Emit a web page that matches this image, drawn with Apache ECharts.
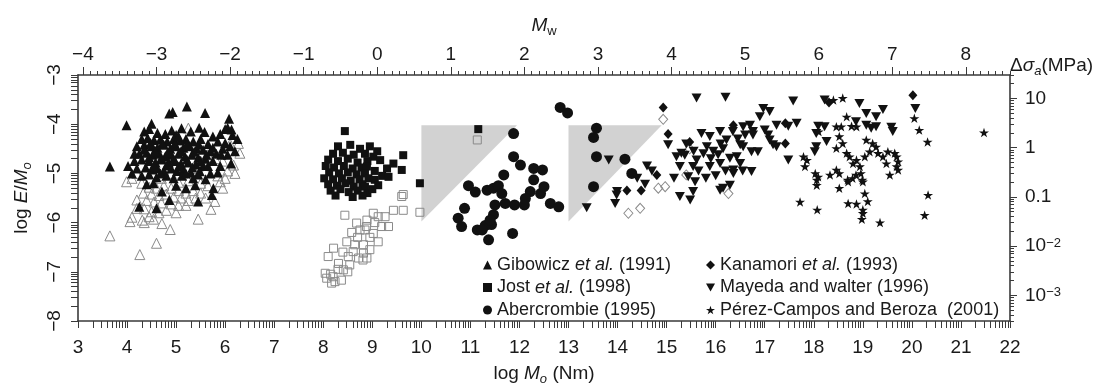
<!DOCTYPE html>
<html><head><meta charset="utf-8">
<script src="https://cdn.jsdelivr.net/npm/echarts@6/dist/echarts.min.js"></script>
<style>html,body{margin:0;padding:0;background:#fff}#c{width:1103px;height:386px}</style>
</head><body><div id="c"></div><script>
// ---------- tick labels ----------
const logM0Labels = [3,4,5,6,7,8,9,10,11,12,13,14,15,16,17,18,19,20,21,22];
const mwLabels = [-4,-3,-2,-1,0,1,2,3,4,5,6,7,8];
const logEM0Labels = [-8,-7,-6,-5,-4,-3];
const stressLabels = [-3,-2,-1,0,1]; // log10 of MPa
const stressText = {'-3':'10{sup|−3}','-2':'10{sup|−2}','-1':'0.1','0':'1','1':'10'};

// ---------- data [log M0, log E/M0] ----------
const gibowiczFilled = [
[5.22,-3.64],[4.86,-3.78],[4.93,-3.75],[5.59,-3.77],[3.99,-4.02],[4.5,-3.99],[6.08,-3.89],[4.91,-4.13],[5.11,-4.08],[5.47,-4.07],[6.05,-4.07],[6.13,-4.11],[6.0,-4.1],[4.35,-4.15],[4.45,-4.1],[4.62,-4.18],[4.78,-4.2],[5.0,-4.22],[5.3,-4.15],[5.58,-4.16],[5.75,-4.25],[5.9,-4.2],[6.15,-4.22],[6.25,-4.3],
[4.3,-4.3],[4.42,-4.28],[4.55,-4.32],[4.68,-4.3],[4.82,-4.35],[4.95,-4.3],[5.08,-4.33],[5.2,-4.3],[5.35,-4.35],[5.5,-4.3],[5.65,-4.4],[5.85,-4.35],[6.0,-4.38],[6.1,-4.45],[5.95,-4.5],
[4.2,-4.45],[4.35,-4.42],[4.5,-4.45],[4.62,-4.48],[4.75,-4.42],[4.88,-4.5],[5.0,-4.45],[5.15,-4.48],[5.28,-4.45],[5.42,-4.5],[5.55,-4.52],[5.7,-4.55],[5.82,-4.6],[6.05,-4.62],
[4.25,-4.6],[4.4,-4.58],[4.52,-4.62],[4.65,-4.6],[4.78,-4.65],[4.9,-4.62],[5.05,-4.6],[5.18,-4.65],[5.32,-4.62],[5.45,-4.68],[5.6,-4.7],[5.75,-4.75],
[3.65,-4.86],[4.02,-4.85],[4.15,-4.75],[4.3,-4.72],[4.45,-4.75],[4.58,-4.78],[4.7,-4.72],[4.85,-4.78],[4.98,-4.75],[5.1,-4.8],[5.25,-4.78],[5.4,-4.82],[5.55,-4.85],[5.9,-4.85],[6.12,-4.8],
[4.2,-4.9],[4.38,-4.88],[4.5,-4.92],[4.62,-4.9],[4.75,-4.95],[4.9,-4.9],[5.02,-4.95],[5.15,-4.92],[5.3,-4.98],[5.48,-4.95],[5.7,-5.0],[5.85,-4.98],
[4.3,-5.05],[4.45,-5.02],[4.6,-5.08],[4.8,-5.05],[4.95,-5.1],[5.12,-5.05],[5.35,-5.1],[5.6,-5.12],
[4.54,-5.2],[5.39,-5.24],[5.76,-5.3],[4.71,-5.37],[5.73,-5.44],[4.86,-5.54],[5.45,-5.57],[4.25,-5.68],[4.6,-5.71],[5.0,-5.25],[4.4,-5.22],[5.2,-5.3],
[4.48,-4.38],[4.72,-4.38],[4.97,-4.4],[5.22,-4.4],[5.47,-4.42],[4.58,-4.55],[4.83,-4.57],[5.1,-4.55],[5.37,-4.56],[5.62,-4.62],[4.45,-4.67],[4.7,-4.68],[4.95,-4.7],[5.22,-4.72],[5.5,-4.75],[4.55,-4.85],[4.8,-4.84],[5.05,-4.86],[5.33,-4.88],[4.68,-5.0],[5.2,-5.0],[5.45,-5.02],[4.35,-4.52],[5.75,-4.48],[5.92,-4.62],[6.2,-4.55],[5.65,-4.85],[4.15,-4.6],[4.1,-5.0],[5.05,-4.25]];
const gibowiczOpen = [
[6.3,-4.59],[6.17,-4.83],[6.27,-4.39],[6.1,-4.4],[5.25,-4.08],[3.99,-5.17],[4.1,-5.1],[4.2,-5.0],[5.65,-4.62],[5.8,-4.7],[5.95,-4.75],[6.05,-4.95],[5.5,-4.75],[5.35,-4.9],[5.6,-4.95],[5.85,-5.05],[6.0,-5.1],[4.9,-5.0],[4.7,-5.1],[5.05,-5.18],[5.25,-5.15],[5.5,-5.2],[5.65,-5.25],[5.9,-5.17],
[4.3,-5.2],[4.45,-5.28],[4.6,-5.3],[4.75,-5.25],[4.9,-5.3],[5.05,-5.35],[5.2,-5.4],[5.35,-5.35],[5.5,-5.4],[5.6,-5.5],[4.33,-5.4],[4.5,-5.42],[4.65,-5.45],[4.8,-5.42],[4.95,-5.48],[5.1,-5.5],[5.25,-5.55],[5.4,-5.5],[4.4,-5.55],[4.55,-5.58],[4.7,-5.6],[4.9,-5.62],[5.05,-5.65],[5.2,-5.65],[4.2,-5.54],[4.2,-5.71],[4.35,-5.72],[4.5,-5.78],[4.65,-5.8],[4.8,-5.75],[5.0,-5.8],[5.71,-5.73],[5.79,-5.57],[5.45,-5.93],[4.1,-5.89],[4.06,-5.98],[4.31,-5.95],[4.54,-5.93],[4.71,-6.02],[4.88,-6.14],[4.6,-6.42],[3.65,-6.27],[4.26,-6.65],[4.45,-5.88],[4.35,-6.0],[5.95,-5.3],[6.2,-5.0]];
const jostFilled = [
[8.44,-4.14],[8.3,-4.45],[8.55,-4.42],[8.75,-4.5],[8.95,-4.45],[9.1,-4.55],[8.2,-4.6],[8.4,-4.58],[8.62,-4.62],[8.85,-4.6],[9.02,-4.66],[9.16,-4.73],[8.1,-4.72],[8.3,-4.75],[8.5,-4.7],[8.7,-4.78],[8.9,-4.75],[9.3,-4.9],[9.43,-4.8],[9.63,-4.63],[9.6,-4.93],[8.05,-4.85],[8.22,-4.88],[8.42,-4.85],[8.6,-4.9],[8.78,-4.88],[8.89,-4.86],[9.05,-4.95],[8.12,-4.98],[8.32,-5.0],[8.5,-4.98],[8.68,-5.02],[8.85,-5.0],[9.2,-5.05],[9.33,-5.07],[8.02,-5.1],[8.2,-5.12],[8.38,-5.1],[8.56,-5.15],[8.74,-5.12],[8.92,-5.1],[9.05,-5.13],[8.1,-5.22],[8.28,-5.25],[8.45,-5.2],[8.62,-5.27],[8.8,-5.22],[8.85,-5.27],[9.12,-5.24],[8.15,-5.35],[8.35,-5.32],[8.52,-5.38],[8.7,-5.35],[8.9,-5.4],[9.0,-5.32],[8.25,-5.45],[8.6,-5.48],[8.8,-5.45],[9.97,-5.2],[11.16,-4.1]];
const jostOpen = [
[8.44,-5.85],[8.68,-6.01],[8.88,-6.08],[8.75,-6.15],[8.48,-6.39],[8.21,-6.52],[8.1,-6.69],[8.31,-6.83],[8.61,-6.59],[8.72,-6.72],[8.51,-6.69],[8.41,-6.96],[8.04,-7.03],[8.07,-7.13],[8.17,-7.23],[8.24,-7.2],[8.37,-7.17],[8.64,-6.45],[8.81,-6.76],[8.54,-6.86],[9.02,-5.81],[8.89,-5.95],[9.12,-5.88],[9.26,-5.88],[9.43,-5.75],[9.63,-5.75],[9.6,-5.47],[9.97,-5.79],[9.19,-6.08],[9.33,-6.08],[8.85,-6.15],[9.02,-6.22],[9.12,-6.39],[8.82,-6.45],[8.89,-6.72],[8.82,-6.62],[9.63,-5.43],[8.95,-6.3],[8.7,-6.3],[8.58,-6.2],[8.4,-6.6],[8.3,-6.95],[8.15,-7.05],[8.2,-7.1],[8.95,-6.55],[8.5,-7.0],[9.05,-6.0],[11.14,-4.32]];
const abercrombie = [
[12.83,-3.66],[12.98,-3.77],[11.88,-4.19],[11.88,-4.66],[12.02,-4.83],[12.29,-4.9],[12.47,-4.93],[11.68,-5.03],[12.29,-5.13],[10.96,-5.25],[11.1,-5.38],[11.34,-5.34],[11.47,-5.3],[11.57,-5.25],[12.22,-5.37],[12.12,-5.51],[11.64,-5.41],[11.71,-5.61],[11.5,-5.64],[11.9,-5.64],[12.1,-5.64],[12.43,-5.41],[12.63,-5.61],[12.8,-5.68],[12.5,-5.27],[10.75,-5.91],[10.82,-6.08],[10.88,-5.71],[11.47,-5.84],[11.43,-6.04],[11.3,-6.06],[11.14,-6.15],[11.24,-6.15],[11.37,-6.35],[11.86,-6.22],[11.4,-5.95],
[13.57,-4.08],[13.51,-4.27],[13.57,-4.66],[14.15,-4.71],[14.29,-5.0],[13.51,-5.27]];
const kanamoriFilled = [[14.93,-3.66],[15.03,-4.2],[15.47,-4.36],[14.8,-5.03],[14.19,-5.35],[14.48,-5.35],[16.36,-4.02],[20.02,-3.41],[18.31,-3.56],[17.42,-4.39],[17.42,-3.98]];
const kanamoriOpen = [[14.93,-3.9],[15.47,-4.5],[14.83,-5.3],[14.97,-5.27],[14.22,-5.81],[14.46,-5.71],[16.26,-5.41],[15.4,-5.03]];
const mayeda = [
[15.61,-3.47],[16.2,-3.45],[13.82,-4.73],[13.99,-5.37],[13.37,-5.7],[13.95,-5.61],[13.98,-5.44],[14.56,-5.22],[15.03,-4.42],[15.3,-4.59],[15.61,-4.73],[15.71,-4.19],[15.88,-4.25],[16.09,-4.15],[16.22,-4.32],[15.82,-4.46],[15.54,-4.86],[15.88,-4.86],[16.09,-4.8],[16.29,-4.69],[15.44,-5.07],[15.58,-5.17],[15.54,-5.37],[15.27,-5.47],[16.15,-5.3],[16.36,-5.0],[15.2,-4.66],[15.37,-4.63],[15.27,-4.86],[15.48,-5.54],[16.09,-5.34],[16.29,-5.24],
[17.58,-3.53],[16.97,-3.68],[17.1,-3.74],[16.9,-3.85],[16.56,-4.05],[16.7,-4.02],[16.76,-4.15],[17.24,-4.02],[17.48,-4.04],[17.65,-3.98],[17.0,-4.12],[17.07,-4.22],[17.1,-4.32],[16.6,-4.22],[16.76,-4.22],[16.5,-4.42],[16.56,-4.46],[16.73,-4.56],[16.86,-4.56],[17.17,-4.42],[17.24,-4.46],[16.43,-4.66],[16.36,-4.93],[16.73,-4.96],[17.48,-4.73],[18.09,-4.04],[18.22,-4.05],[18.05,-4.19],[18.26,-4.35],[18.02,-4.56],[18.05,-4.46],[18.22,-3.51],[18.93,-3.58],[19.07,-3.78],[19.41,-3.7],[19.27,-3.85],[18.86,-3.95],[19.07,-4.02],[19.17,-4.08],[19.27,-4.05],[19.58,-4.06],[19.61,-4.15],[20.07,-3.68],
[15.95,-4.55],[16.05,-4.62],[16.15,-4.5],[15.75,-4.6],[15.65,-4.95],[15.8,-5.1],[16.0,-5.05],[16.2,-4.95],[15.9,-4.7],[16.45,-4.3],[16.35,-4.15],[16.5,-4.8],[15.4,-4.4],[15.15,-5.1],[14.6,-4.85],[14.4,-5.1],[14.7,-4.95],[16.55,-4.95],[16.1,-4.4],[15.55,-4.55]];
const perezCampos = [
[18.59,-3.47],[18.4,-3.51],[18.67,-3.85],[18.77,-4.04],[18.87,-4.05],[18.46,-4.05],[18.56,-4.05],[18.1,-4.15],[18.52,-4.25],[18.59,-4.39],[18.46,-4.49],[19.07,-4.32],[19.2,-4.39],[19.27,-4.46],[19.14,-4.56],[18.67,-4.59],[18.73,-4.66],[18.87,-4.73],[18.8,-4.8],[18.94,-4.86],[19.04,-4.66],[19.31,-4.59],[19.41,-4.66],[19.51,-4.56],[19.48,-4.8],[19.65,-4.59],[19.69,-4.66],[19.72,-4.76],[19.69,-4.86],[19.72,-4.93],[19.55,-5.03],[20.05,-3.88],[20.15,-4.12],[20.32,-4.36],[21.47,-4.17],[17.79,-4.66],[17.86,-4.73],[17.82,-4.86],[18.03,-5.0],[18.06,-5.13],[18.06,-5.24],[18.09,-5.07],[18.33,-5.03],[18.46,-4.93],[18.52,-5.0],[18.69,-5.13],[18.79,-5.1],[18.86,-5.03],[18.96,-5.0],[18.99,-5.13],[18.52,-5.3],[19.04,-5.41],[20.33,-5.44],
[17.72,-5.58],[18.07,-5.74],[18.7,-5.61],[18.87,-5.62],[19.0,-5.74],[19.1,-5.57],[19.0,-5.81],[18.98,-5.93],[19.35,-6.0],[20.26,-5.85],[18.7,-5.17],[19.0,-5.17]];
const grayTriangles = [[[10,-4.02],[11.95,-4.02],[10,-5.98]],[[13,-4.02],[14.9,-4.02],[13,-5.98]]];
const questionMarks = [[10.84,-4.14],[13.86,-4.14]];
const names = ['Gibowicz et al. (1991)','Jost et al. (1998)','Abercrombie (1995)','Kanamori et al. (1993)','Mayeda and walter (1996)','Pérez-Campos and Beroza  (2001)'];

// ---------- axis helpers ----------
const FONT = 'Liberation Sans, Arial, sans-serif';
const INK = '#1a1a1a', AX = '#3a3a3a';
const MU = Math.log10(3e4); // log10 shear modulus in MPa
function logTicks(a, b, lo, hi, withDecade){
  const out=[];
  for(let n=a;n<=b;n++) for(let k=(withDecade?1:2);k<=9;k++){const v=n+Math.log10(k); if(v>=lo-1e-9&&v<=hi+1e-9) out.push(v);}
  return out;
}
const bottomTicks = logTicks(3,22,3,22,true);
const leftTicks = logTicks(-8,-3,-8,-3,true);
const rightMin = -8+MU, rightMax = -3+MU;
const rightMinor = logTicks(-4,1,rightMin,rightMax,false);
const mwMin = (3-9.1)/1.5, mwMax = (22-9.1)/1.5;
const mwMinor = []; for(let i=-41;i<=86;i++){ if(i%10!==0) mwMinor.push(i/10); }
const minus = v => (v<0?'−'+(-v):String(v));
const lineStyle = {color:AX,width:1.6};
const base = {fontFamily:FONT,color:INK};
const nameRich = {
  n:{...base,fontSize:19,lineHeight:24},
  i:{...base,fontSize:19,fontStyle:'italic',lineHeight:24},
  s:{...base,fontSize:13,fontStyle:'italic',lineHeight:12,verticalAlign:'bottom'},
  su:{...base,fontSize:13,lineHeight:12,verticalAlign:'bottom'}
};
// tick-only axes (no line, no labels)
const tickX = (pos,min,max,vals,len) => ({type:'value',position:pos,min,max,
  axisLine:{show:false,onZero:false},axisLabel:{show:false},splitLine:{show:false},
  axisTick:{show:true,length:len,customValues:vals,lineStyle:{color:AX,width:1}}});

const scat = (name, data, symbol, size, filled, z) => ({
  type:'scatter', name, data, symbol, symbolSize:size, symbolKeepAspect:true, z:z||3,
  xAxisIndex:0, yAxisIndex:0, silent:true,
  itemStyle: filled ? {color:'#111', opacity:1} : {color:'rgba(255,255,255,0)', borderColor:'#8a8a8a', borderWidth:1, opacity:1}
});
const TRI_DOWN = 'path://M0,0L10,0L5,9Z';
const STAR = 'path://M5,0L6.2,3.6L10,3.6L6.9,5.9L8.1,9.5L5,7.3L1.9,9.5L3.1,5.9L0,3.6L3.8,3.6Z';
const legendFmt = n => n.replace('et al.','{i|et al.}');
const legendText = {fontFamily:FONT,fontSize:18,color:INK,lineHeight:20,rich:{i:{fontFamily:FONT,fontSize:18,fontStyle:'italic',color:INK,lineHeight:20}}};

const chart = echarts.init(document.getElementById('c'), null, {renderer:'canvas'});
chart.setOption({
  animation:false,
  backgroundColor:'#fff',
  grid:{left:78,right:93,top:75,bottom:65,containLabel:false,outerBoundsMode:'none'},
  legend:[
    {orient:'vertical',left:478,top:250,itemWidth:9,itemHeight:9,itemGap:2.5,selectedMode:false,formatter:legendFmt,textStyle:legendText,
     data:[{name:names[0],icon:'triangle'},{name:names[1],icon:'rect'},{name:names[2],icon:'circle'}]},
    {orient:'vertical',left:701,top:250,itemWidth:9,itemHeight:9,itemGap:2.5,selectedMode:false,formatter:legendFmt,textStyle:legendText,
     data:[{name:names[3],icon:'diamond'},{name:names[4],icon:TRI_DOWN},{name:names[5],icon:STAR}]}
  ],
  xAxis:[
    {type:'value',position:'bottom',min:3,max:22,interval:1,
     axisLine:{show:true,onZero:false,lineStyle},
     axisTick:{show:false},
     axisLabel:{fontSize:19,fontFamily:FONT,color:INK,margin:17},
     splitLine:{show:false},
     name:'log {i|M}{s|o} (Nm)',nameLocation:'middle',nameGap:41,nameTextStyle:{...base,fontSize:19,rich:nameRich}},
    {type:'value',position:'top',min:mwMin,max:mwMax,
     axisLine:{show:true,onZero:false,lineStyle},
     axisTick:{show:false},
     axisLabel:{customValues:mwLabels,formatter:minus,fontSize:19,fontFamily:FONT,color:INK,margin:11},
     splitLine:{show:false},
     name:'{i|M}{su|w}',nameLocation:'middle',nameGap:37,nameTextStyle:{...base,fontSize:19,rich:nameRich}},
    tickX('top',mwMin,mwMax,mwMinor,4),
    tickX('top',mwMin,mwMax,mwLabels,8),
    tickX('bottom',3,22,bottomTicks,7)
  ],
  yAxis:[
    {type:'value',position:'left',min:-8,max:-3,interval:1,
     axisLine:{show:true,onZero:false,lineStyle},
     axisTick:{show:false},
     axisLabel:{formatter:minus,rotate:90,fontSize:19,fontFamily:FONT,color:INK,margin:14},
     splitLine:{show:false},
     name:'log {i|E}/{i|M}{s|o}',nameLocation:'middle',nameGap:44,nameTextStyle:{...base,fontSize:19,rich:nameRich}},
    {type:'value',position:'right',min:rightMin,max:rightMax,
     axisLine:{show:true,onZero:false,lineStyle},
     axisTick:{show:false},
     axisLabel:{customValues:stressLabels,formatter:v=>stressText[String(Math.round(v))],fontSize:19,fontFamily:FONT,color:INK,margin:15,
       rich:{sup:{fontFamily:FONT,fontSize:13,color:INK,lineHeight:12,verticalAlign:'top'}}},
     splitLine:{show:false},
     name:'{n|Δ}{i|σ}{s|a}{n|(MPa)}',nameLocation:'end',nameGap:-3,
     nameTextStyle:{...base,fontSize:19,align:'left',verticalAlign:'bottom',rich:nameRich}},
    tickX('right',rightMin,rightMax,rightMinor,4),
    tickX('right',rightMin,rightMax,stressLabels,7),
    tickX('left',-8,-3,leftTicks,7)
  ],
  series:[
    {type:'custom',name:'regions',xAxisIndex:0,yAxisIndex:0,z:1,silent:true,
     data:grayTriangles.map((t,i)=>[t[0][0],t[0][1],i]),
     renderItem:(p,api)=>({type:'polygon',shape:{points:grayTriangles[p.dataIndex].map(v=>api.coord(v))},style:{fill:'#d2d2d2'}})},
    scat('open-gib',gibowiczOpen,'triangle',10,false,2),
    scat('open-jost',jostOpen,'rect',8,false,2),
    scat('open-kan',kanamoriOpen,'diamond',[9,10],false,2),
    scat(names[0],gibowiczFilled,'triangle',10,true),
    scat(names[1],jostFilled,'rect',8,true),
    scat(names[2],abercrombie,'circle',11,true),
    scat(names[3],kanamoriFilled,'diamond',[9,10],true),
    scat(names[4],mayeda,TRI_DOWN,10,true),
    scat(names[5],perezCampos,STAR,10,true),
    {type:'scatter',name:'q',data:questionMarks,symbolSize:1,itemStyle:{opacity:0},silent:true,z:4,
     label:{show:true,position:'inside',formatter:'?',fontFamily:FONT,fontSize:24,fontWeight:'bold',color:'#222'}}
  ]
});
</script></body></html>
